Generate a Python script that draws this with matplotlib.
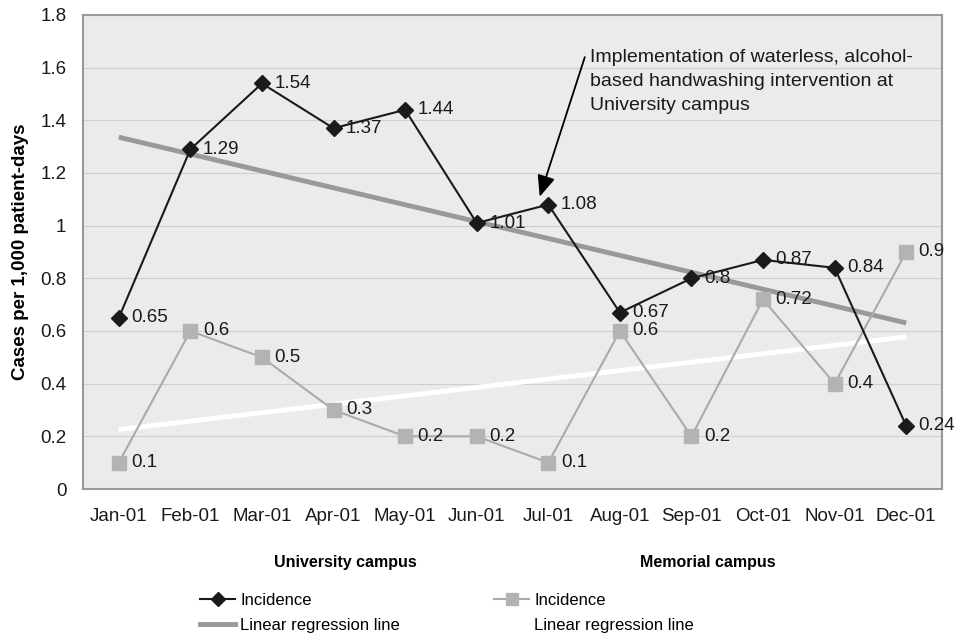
import numpy as np
import matplotlib.pyplot as plt
from matplotlib.lines import Line2D

plt.rcParams['font.family'] = ['Liberation Sans', 'DejaVu Sans']

months = ['Jan-01', 'Feb-01', 'Mar-01', 'Apr-01', 'May-01', 'Jun-01',
          'Jul-01', 'Aug-01', 'Sep-01', 'Oct-01', 'Nov-01', 'Dec-01']
university = [0.65, 1.29, 1.54, 1.37, 1.44, 1.01, 1.08, 0.67, 0.8, 0.87, 0.84, 0.24]
memorial = [0.1, 0.6, 0.5, 0.3, 0.2, 0.2, 0.1, 0.6, 0.2, 0.72, 0.4, 0.9]

x = np.arange(len(months))

# linear regression lines
uni_fit = np.polyval(np.polyfit(x, university, 1), x)
mem_fit = np.polyval(np.polyfit(x, memorial, 1), x)

fig = plt.figure(figsize=(9.58, 6.38), dpi=100)
ax = fig.add_axes([83 / 958, 1 - 489 / 638, 859 / 958, 474 / 638])
ax.set_facecolor('#ebebeb')

ax.plot(x, uni_fit, color='#999999', lw=3.5, solid_capstyle='butt', zorder=3)
ax.plot(x, mem_fit, color='white', lw=3.5, solid_capstyle='butt', zorder=3)
ax.plot(x, memorial, color='#aaaaaa', lw=1.5, marker='s', ms=9.5,
        mfc='#b3b3b3', mec='#b3b3b3', zorder=4)
ax.plot(x, university, color='#1a1a1a', lw=1.5, marker='D', ms=8.5,
        mfc='#1a1a1a', mec='#1a1a1a', zorder=5)

for xi, v in zip(x, university):
    ax.annotate(f'{v:g}', (xi, v), xytext=(9, 0), textcoords='offset points',
                va='center', ha='left', fontsize=13.5, color='#1a1a1a', zorder=6)
for xi, v in zip(x, memorial):
    ax.annotate(f'{v:g}', (xi, v), xytext=(9, 0), textcoords='offset points',
                va='center', ha='left', fontsize=13.5, color='#1a1a1a', zorder=6)

ax.set_xlim(-0.5, 11.5)
ax.set_ylim(0, 1.8)
ax.set_yticks(np.arange(0, 1.81, 0.2))
ax.set_yticklabels(['0', '0.2', '0.4', '0.6', '0.8', '1', '1.2', '1.4', '1.6', '1.8'])
ax.set_xticks(x)
ax.set_xticklabels(months)
ax.tick_params(length=0, labelsize=13.5, colors='#1a1a1a')
ax.tick_params(axis='x', pad=14)
ax.tick_params(axis='y', pad=12)
ax.grid(axis='y', color='#cfcfcf', lw=0.8)
ax.set_axisbelow(True)
for s in ax.spines.values():
    s.set_color('#999999')
    s.set_linewidth(1.5)

ax.set_ylabel('Cases per 1,000 patient-days', fontsize=13.5, fontweight='bold',
              labelpad=8)

ax.text(6.58, 1.672, 'Implementation of waterless, alcohol-\nbased handwashing intervention at\nUniversity campus',
        fontsize=14, va='top', ha='left', linespacing=1.55, color='#1a1a1a')
ax.annotate('', xy=(5.88, 1.11), xytext=(6.51, 1.64),
            arrowprops=dict(arrowstyle='-|>,head_length=1.3,head_width=0.55',
                            color='black', lw=1.3, shrinkA=0, shrinkB=0))

# legends below plot
fig.text(345 / 958, 1 - 562 / 638, 'University campus', ha='center', va='center',
         fontsize=11.5, fontweight='bold')
fig.text(708 / 958, 1 - 562 / 638, 'Memorial campus', ha='center', va='center',
         fontsize=11.5, fontweight='bold')

h_uni = [Line2D([], [], color='#1a1a1a', lw=1.5, marker='D', ms=7, mfc='#1a1a1a'),
         Line2D([], [], color='#999999', lw=3.5)]
h_mem = [Line2D([], [], color='#aaaaaa', lw=1.5, marker='s', ms=9,
                mfc='#b3b3b3', mec='#b3b3b3'),
         Line2D([], [], color='white', lw=3.5)]
labels = ['Incidence', 'Linear regression line']
fig.legend(h_uni, labels, loc='upper left', bbox_to_anchor=(185 / 958, 1 - 578 / 638),
           frameon=False, fontsize=12, handlelength=2.1, handletextpad=0.3,
           labelspacing=0.6)
fig.legend(h_mem, labels, loc='upper left', bbox_to_anchor=(479 / 958, 1 - 578 / 638),
           frameon=False, fontsize=12, handlelength=2.1, handletextpad=0.3,
           labelspacing=0.6)

fig.savefig('out.png', dpi=100, facecolor='white')
